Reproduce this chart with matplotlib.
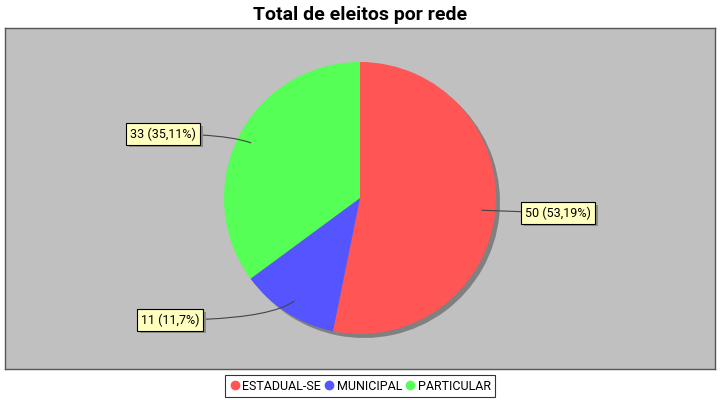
import matplotlib.pyplot as plt
from matplotlib.lines import Line2D
from matplotlib import patheffects
import numpy as np

plt.rcParams['font.family'] = ['Roboto', 'DejaVu Sans']

categorias = ["ESTADUAL-SE", "MUNICIPAL", "PARTICULAR"]
eleitos = [50, 11, 33]
rotulos = ["50 (53,19%)", "11 (11,7%)", "33 (35,11%)"]
cores = ['#ff5555', '#5555ff', '#55ff55']

fig = plt.figure(figsize=(7.2, 4), dpi=100)
fig.patch.set_facecolor('white')

# area do grafico em pixels (y para cima)
ax = fig.add_axes([5/720, 31/400, 710/720, 341/400])
ax.set_facecolor('#c0c0c0')
ax.set_xticks([])
ax.set_yticks([])
for s in ax.spines.values():
    s.set_color('#555555')
    s.set_linewidth(1)

cx, cy, r = 355, 171, 136

# sombra
ax.pie(eleitos, startangle=90, counterclock=False, radius=r, center=(cx + 4, cy - 4),
       colors=['#808080'] * 3, wedgeprops=dict(linewidth=0), frame=True)
wedges, _ = ax.pie(eleitos, startangle=90, counterclock=False, radius=r, center=(cx, cy),
                   colors=cores, wedgeprops=dict(linewidth=0), frame=True)
ax.set_xlim(0, 710)
ax.set_ylim(0, 341)
ax.set_aspect('auto')

# posicoes das caixas de rotulo e estilo das linhas
pos_rotulos = [(553, 156), (165, 49), (158, 235)]
conexoes = ['arc3,rad=0', 'angle3,angleA=0,angleB=35', 'angle3,angleA=0,angleB=-20']
sombra = [patheffects.SimplePatchShadow(offset=(2, -2), shadow_rgbFace='#8c8c8c', alpha=1.0),
          patheffects.Normal()]
for w, txt, (tx, ty), con in zip(wedges, rotulos, pos_rotulos, conexoes):
    ang = np.deg2rad((w.theta1 + w.theta2) / 2)
    px = cx + 0.9 * r * np.cos(ang)
    py = cy + 0.9 * r * np.sin(ang)
    an = ax.annotate(txt, xy=(px, py), xytext=(tx, ty), fontsize=9, ha='center', va='center',
                     bbox=dict(boxstyle='square,pad=0.32', fc='#ffffc0', ec='black', lw=0.8),
                     arrowprops=dict(arrowstyle='-', color='#444444', lw=0.8,
                                     connectionstyle=con, shrinkA=0, shrinkB=0))
    an.get_bbox_patch().set_path_effects(sombra)

fig.text(0.5, 1 - 15/400, "Total de eleitos por rede", ha='center', va='center',
         fontsize=14, fontweight='bold')

handles = [Line2D([], [], marker='o', color=c, linestyle='none', markersize=6) for c in cores]
leg = fig.legend(handles, categorias, loc='center', bbox_to_anchor=(0.5, 1 - 386/400),
                 ncol=3, frameon=True, fontsize=9, handletextpad=0.15, columnspacing=0.2,
                 handlelength=0.9, borderpad=0.35, borderaxespad=0, fancybox=False)
leg.get_frame().set_edgecolor('black')
leg.get_frame().set_linewidth(0.8)

fig.savefig('out.png', dpi=100)
